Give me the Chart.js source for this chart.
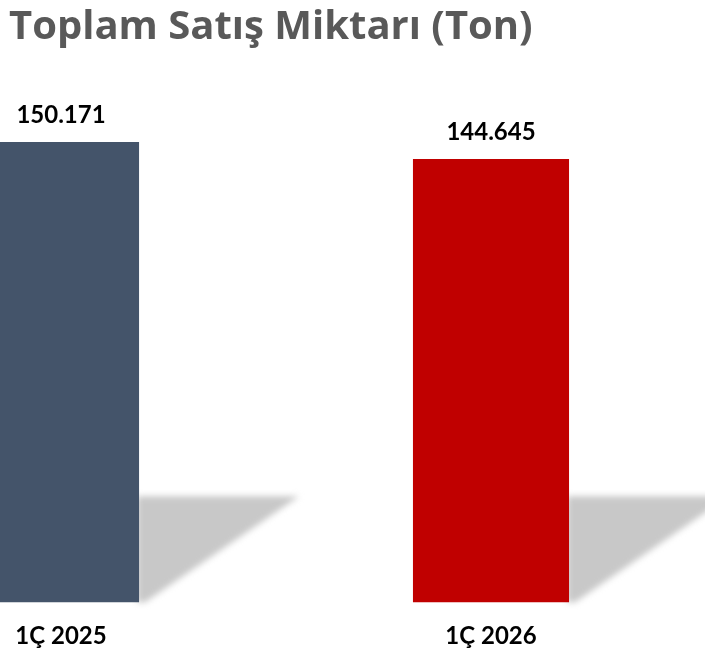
<!DOCTYPE html>
<html><head><meta charset="utf-8">
<script src="https://cdn.jsdelivr.net/npm/chart.js@4/dist/chart.umd.min.js"></script>
<style>html,body{margin:0;padding:0;background:#fff;overflow:hidden}#wrap{position:relative;width:705px;height:652px}</style>
</head><body><div id="wrap"><canvas id="c" width="705" height="652"></canvas></div>
<script>
const title = 'Toplam Satış Miktarı (Ton)';
const categories = ['1Ç 2025', '1Ç 2026'];
const values = [150171, 144645];
const valueLabels = ['150.171', '144.645'];
const colors = ['#44546A', '#C00000'];

const titlePlugin = {
  id: 'titleText',
  beforeDraw(chart) {
    const ctx = chart.ctx;
    ctx.save();
    ctx.font = 'bold 40px "Open Sans"';
    ctx.fillStyle = '#595959';
    ctx.textBaseline = 'alphabetic';
    ctx.textAlign = 'left';
    ctx.fillText(title, 9, 39);
    ctx.restore();
  }
};
const shadowPlugin = {
  id: 'shadows',
  beforeDatasetsDraw(chart) {
    const ctx = chart.ctx;
    const meta = chart.getDatasetMeta(0);
    ctx.save();
    ctx.filter = 'blur(3px)';
    ctx.fillStyle = '#c8c8c8';
    meta.data.forEach(bar => {
      const r = bar.x + bar.width / 2;
      const b = bar.base;
      ctx.beginPath();
      ctx.moveTo(r - 2, b - 106);
      ctx.lineTo(r + 160, b - 106);
      ctx.lineTo(r + 6, b);
      ctx.lineTo(r - 2, b);
      ctx.closePath();
      ctx.fill();
    });
    ctx.restore();
  }
};
const labelPlugin = {
  id: 'valueLabels',
  afterDatasetsDraw(chart) {
    const ctx = chart.ctx;
    const meta = chart.getDatasetMeta(0);
    ctx.save();
    ctx.font = 'bold 24px Lato';
    ctx.fillStyle = '#000';
    ctx.textAlign = 'center';
    ctx.textBaseline = 'middle';
    meta.data.forEach((bar, i) => {
      ctx.fillText(valueLabels[i], bar.x, bar.y - 27);
    });
    ctx.restore();
  }
};

new Chart(document.getElementById('c'), {
  type: 'bar',
  data: {
    datasets: [{
      data: values.map((v, i) => ({ x: i, y: v })),
      backgroundColor: colors,
      borderWidth: 0,
      barPercentage: 0.363,
      categoryPercentage: 1,
      clip: false
    }]
  },
  options: {
    responsive: false,
    animation: false,
    events: [],
    layout: { padding: { top: 112, bottom: -19, left: 0, right: 0 } },
    plugins: { legend: { display: false }, tooltip: { enabled: false }, title: { display: false } },
    scales: {
      x: {
        type: 'linear',
        offset: false,
        min: -0.1419,
        max: 1.4977,
        afterBuildTicks: axis => { axis.ticks = categories.map((c, i) => ({ value: i })); },
        afterFit: axis => { axis.paddingLeft = 0; axis.paddingRight = 0; },
        grid: { display: false, drawTicks: false, offset: false },
        border: { display: false },
        ticks: {
          padding: 20,
          maxRotation: 0,
          color: '#000',
          font: { family: 'Lato', weight: 'bold', size: 24 },
          callback: v => categories[v]
        }
      },
      y: { display: false, min: 0, max: 160000 }
    }
  },
  plugins: [titlePlugin, shadowPlugin, labelPlugin]
});
</script></body></html>
